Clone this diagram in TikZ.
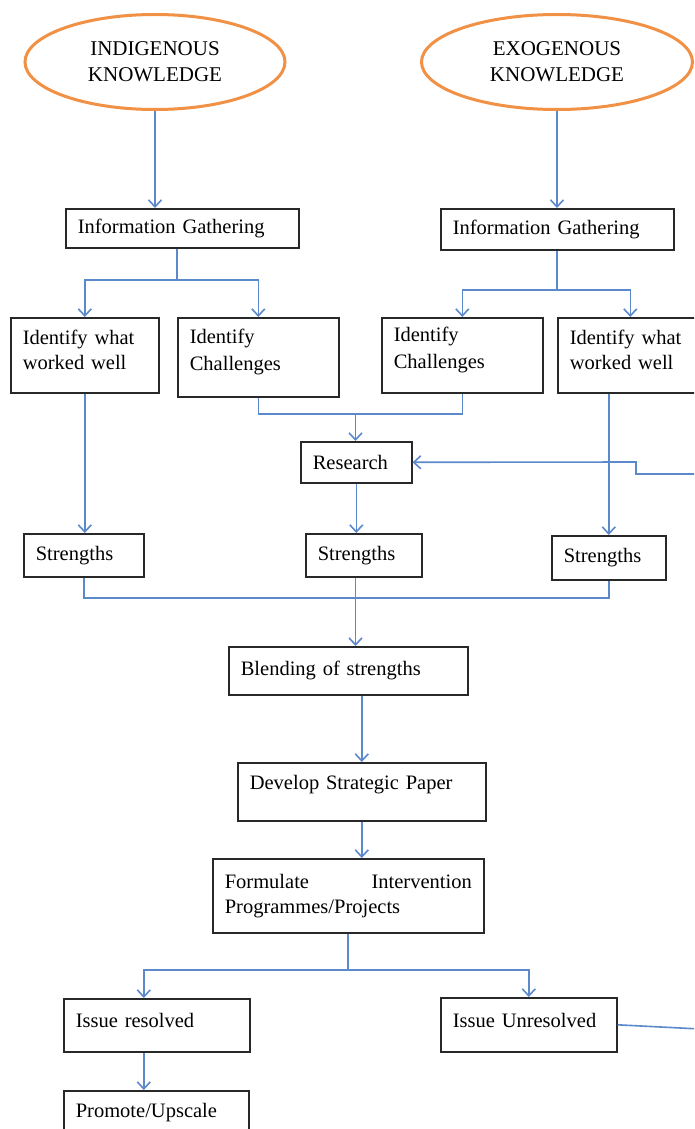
\documentclass[tikz,border=0pt]{standalone}
\usepackage{fontspec}
\setmainfont{Liberation Serif}
\usetikzlibrary{arrows.meta,shapes.geometric}
\definecolor{lnblue}{RGB}{91,137,204}
\definecolor{ovorange}{RGB}{240,145,70}
\definecolor{bxline}{RGB}{40,40,40}
\begin{document}
\begin{tikzpicture}[x=1pt,y=-1pt,
  box/.style={draw=bxline, line width=1.6pt, anchor=north west, align=left,
    inner xsep=12pt, inner ysep=0pt, font=\fontsize{20.5}{25}\selectfont},
  oval/.style={ellipse, draw=ovorange, line width=3pt, align=center,
    inner sep=0pt, font=\fontsize{21}{26}\selectfont},
  conn/.style={draw=lnblue, line width=1.6pt},
  arr/.style={conn, -{Straight Barb[length=7pt,width=13pt,line width=1.6pt]}}]
\useasboundingbox (0,0) rectangle (694,1129);
\clip (0,0) rectangle (694,1129);
\fill[white] (0,0) rectangle (694,1129);

% ovals
\node[oval, minimum width=260pt, minimum height=95pt] (o1) at (155,62) {INDIGENOUS\\KNOWLEDGE};
\node[oval, minimum width=271pt, minimum height=95pt] (o2) at (557,62) {EXOGENOUS\\KNOWLEDGE};

% boxes
\node[box, text width=209pt, minimum height=39pt] (ig1) at (65,208) {Information Gathering};
\node[box, text width=209pt, minimum height=41pt] (ig2) at (440,208) {Information Gathering};
\node[box, text width=124pt, minimum height=75pt, text depth=37pt] (iww1) at (10,317) {Identify what\\worked well};
\node[box, text width=137pt, minimum height=79pt, text depth=43pt] (ich1) at (177,317) {Identify\\[2pt]Challenges};
\node[box, text width=137pt, minimum height=75pt, text depth=43pt] (ich2) at (381,317) {Identify\\[2pt]Challenges};
\node[box, text width=121pt, minimum height=75pt, text depth=37pt] (iww2) at (557,317) {Identify what\\worked well};
\node[box, text width=87pt, minimum height=41pt] (res) at (300,441) {Research};
\node[box, text width=96pt, minimum height=43pt] (str1) at (23,533) {Strengths};
\node[box, text width=92pt, minimum height=43pt] (str2) at (305,533) {Strengths};
\node[box, text width=90pt, minimum height=44pt] (str3) at (551,535) {Strengths};
\node[box, text width=215pt, minimum height=48pt] (blend) at (228,646) {Blending of strengths};
\node[box, text width=224pt, minimum height=58pt, text depth=18pt] (dev) at (237,762) {Develop Strategic Paper};
\node[box, text width=247pt, minimum height=74pt] (form) at (212,858) {Formulate\hfill Intervention\\Programmes/Projects};
\node[box, text width=162pt, minimum height=53pt, text depth=10pt] (ires) at (63,998) {Issue resolved};
\node[box, text width=152pt, minimum height=54pt, text depth=8pt] (iunr) at (440,997) {Issue Unresolved};
\node[box, text width=161pt, minimum height=44pt] (prom) at (63,1090) {Promote/Upscale};

% junction coordinates
\coordinate (j1) at (177,280);
\coordinate (j2) at (557,290);
\coordinate (j3) at (355.5,414);
\coordinate (j4) at (355.5,598);
\coordinate (j5) at (348,970);
\coordinate (fb1) at (720,1030);
\coordinate (fb2) at (720,474);
\coordinate (fb3) at (636,474);
\coordinate (fb4) at (636,462);

% connectors
\draw[arr] (o1.south) -- (o1.south |- ig1.north);
\draw[arr] (o2.south) -- (o2.south |- ig2.north);

\draw[conn] (j1 |- ig1.south) -- (j1);
\draw[arr] (j1) -| (iww1.north);
\draw[arr] (j1) -| (ich1.north);

\draw[conn] (j2 |- ig2.south) -- (j2);
\draw[arr] (j2) -| (ich2.north);
\draw[arr] (j2) -| (iww2.north);

\draw[conn] (ich1.south) |- (j3) -| (ich2.south);
\draw[arr] (j3) -- (j3 |- res.north);

\draw[arr] (iww1.south) -- (iww1.south |- str1.north);
\draw[arr] (res.south) -- (res.south |- str2.north);
\draw[arr] (str3.north |- iww2.south) -- (str3.north);

\draw[conn] (str1.south) |- (j4) -| (str3.south);
\draw[arr] (j4 |- str2.south) -- (j4 |- blend.north);

\draw[arr] (dev.north |- blend.south) -- (dev.north);
\draw[arr] (dev.south) -- (dev.south |- form.north);

\draw[conn] (j5 |- form.south) -- (j5);
\draw[arr] (j5) -| ([xshift=-13pt]ires.north);
\draw[arr] (j5) -| (iunr.north);
\draw[arr] ([xshift=-13pt]ires.south) -- ([xshift=-13pt]ires.south |- prom.north);

\draw[arr] (iunr.east) -- (fb1) -- (fb2) -- (fb3) -- (fb4) -- (res.east);
\end{tikzpicture}
\end{document}
